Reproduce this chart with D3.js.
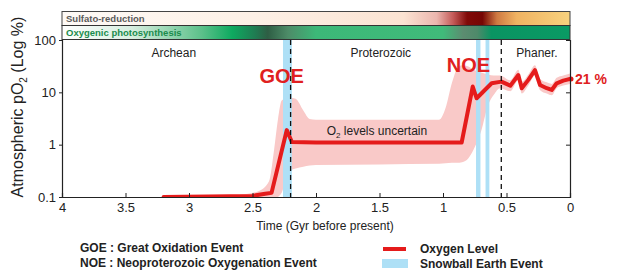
<!DOCTYPE html>
<html>
<head>
<meta charset="utf-8">
<script src="https://cdn.jsdelivr.net/npm/d3@7"></script>
<style>
  body { margin: 0; background: #fff; }
  svg { font-family: "Liberation Sans", Arial, sans-serif; }
</style>
</head>
<body>
<div id="chart"></div>
<script>
// Oxygen level curve (Gyr before present, % of atmosphere)
const ages = [3.2, 2.5, 2.4, 2.35, 2.23, 2.19, 2.0, 1.5, 1.0, 0.853, 0.766, 0.735, 0.617, 0.54, 0.47, 0.407, 0.38, 0.328, 0.276, 0.236, 0.183, 0.144, 0.105, 0.053, 0];
const o2 = [0.1, 0.105, 0.115, 0.12, 1.9, 1.12, 1.1, 1.1, 1.1, 1.1, 12.9, 7.7, 14.9, 16, 13.4, 21.4, 12, 17.3, 26.5, 13.8, 12, 11.1, 14.9, 16.7, 18];

// Uncertainty envelope
const bandAge = [2.6, 2.45, 2.37, 2.33, 2.3, 2.27, 2.22, 2.16, 2.1, 2.05, 2.0, 1.5, 1.03, 0.98, 0.93, 0.89, 0.85, 0.8, 0.76, 0.7, 0.645, 0.6, 0.55, 0.47, 0.407, 0.38, 0.328, 0.276, 0.236, 0.183, 0.144, 0.105, 0.053, 0];
const bandHigh = [0.11, 0.13, 0.2, 0.8, 3, 7, 8, 7.5, 4.5, 3.1, 3, 3, 3, 5, 15, 28, 33, 31, 27, 24, 22, 21, 21, 17, 27, 16, 22, 33, 18, 15.5, 14.5, 19, 21, 23];
const bandLow = [0.09, 0.09, 0.09, 0.09, 0.1, 0.12, 0.3, 0.35, 0.38, 0.4, 0.41, 0.42, 0.43, 0.44, 0.45, 0.45, 0.46, 0.55, 0.8, 1.8, 5.7, 9, 12, 10.5, 17, 9.5, 13.5, 21, 11, 9.5, 8.8, 12, 13.5, 14.5];

// Snowball Earth events [start, end] in Gyr
const snowballs = [[2.26, 2.19], [0.74, 0.705], [0.665, 0.635]];

// Eon boundaries and labels
const eonBounds = [2.2, 0.541];
const eonNames = ['Archean', 'Proterozoic', 'Phaner.'];
const eonMid = [3.12, 1.49, 0.26];

const xTicks = [4, 3.5, 3, 2.5, 2, 1.5, 1, 0.5, 0];
const yTicks = [0.1, 1, 10, 100];

// Top strips: colour stops by age
const sulfStops = [[4, '#fefaf6'], [2.5, '#fdf0e6'], [1.31, '#fbe3d2'], [1.05, '#ebb6ae'], [0.92, '#c45a58'], [0.81, '#800a08'], [0.69, '#760604'], [0.575, '#cf7a42'], [0.42, '#f0b362'], [0, '#f8d27e']];
const photoStops = [[4, '#ffffff'], [3.45, '#d8eee0'], [2.9, '#5cc08a'], [2.66, '#0eaa60'], [2.48, '#1f7c52'], [2.38, '#2e5e44'], [2.22, '#4d8c68'], [2.0, '#3cb878'], [1.0, '#40bb7a'], [0.84, '#5c8c70'], [0.73, '#4e8a6a'], [0.62, '#0a9462'], [0, '#0a9a64']];

const width = 622, height = 275;
const m = { left: 62, right: 52, top: 40, bottom: 78 };

const svg = d3.select('#chart').append('svg')
  .attr('width', width)
  .attr('height', height);

const x = d3.scaleLinear().domain([4, 0]).range([m.left, width - m.right]);
const y = d3.scaleLog().domain([0.1, 100]).range([height - m.bottom, m.top]);

const defs = svg.append('defs');
defs.append('clipPath').attr('id', 'plot-clip')
  .append('rect')
  .attr('x', x(4)).attr('y', y(100))
  .attr('width', x(0) - x(4)).attr('height', y(0.1) - y(100));

function addGradient(id, stops) {
  const g = defs.append('linearGradient').attr('id', id)
    .attr('x1', '0%').attr('x2', '100%').attr('y1', '0%').attr('y2', '0%');
  stops.forEach(s => {
    g.append('stop')
      .attr('offset', `${(4 - s[0]) / 4 * 100}%`)
      .attr('stop-color', s[1]);
  });
}
addGradient('sulf', sulfStops);
addGradient('photo', photoStops);

// top strips
const stripH = 14;
svg.append('rect')
  .attr('x', x(4)).attr('y', m.top - 2 * stripH - 0.5)
  .attr('width', x(0) - x(4)).attr('height', stripH)
  .attr('fill', 'url(#sulf)').attr('stroke', '#444').attr('stroke-width', 1);
svg.append('rect')
  .attr('x', x(4)).attr('y', m.top - stripH - 0.5)
  .attr('width', x(0) - x(4)).attr('height', stripH)
  .attr('fill', 'url(#photo)').attr('stroke', '#333').attr('stroke-width', 1);

svg.append('text')
  .attr('x', x(4) + 4).attr('y', m.top - stripH - 4)
  .style('font-size', '9.5px').style('font-weight', 'bold')
  .style('fill', '#5a5a5a')
  .text('Sulfato-reduction');
svg.append('text')
  .attr('x', x(4) + 4).attr('y', m.top - 4)
  .style('font-size', '9.5px').style('font-weight', 'bold')
  .style('fill', '#1a8c4c')
  .text('Oxygenic photosynthesis');

const plot = svg.append('g').attr('clip-path', 'url(#plot-clip)');

// uncertainty band
const bandData = bandAge.map((a, i) => ({ a, lo: bandLow[i], hi: bandHigh[i] }));
plot.append('path')
  .datum(bandData)
  .attr('fill', '#f9c9c8')
  .attr('d', d3.area()
    .x(d => x(d.a))
    .y0(d => y(d.lo))
    .y1(d => y(d.hi))
    .curve(d3.curveMonotoneX));

// snowball earth bands
plot.selectAll('.snow')
  .data(snowballs)
  .join('rect')
  .attr('class', 'snow')
  .attr('x', d => x(d[0]))
  .attr('width', d => x(d[1]) - x(d[0]))
  .attr('y', y(100))
  .attr('height', y(0.1) - y(100))
  .attr('fill', '#aee0f6');

// eon boundaries
svg.selectAll('.eon')
  .data(eonBounds)
  .join('line')
  .attr('class', 'eon')
  .attr('x1', d => x(d)).attr('x2', d => x(d))
  .attr('y1', y(100)).attr('y2', y(0.1))
  .attr('stroke', '#111').attr('stroke-width', 1.3)
  .attr('stroke-dasharray', '5,4');

// oxygen line
const lineData = ages.map((a, i) => ({ a, v: o2[i] }));
plot.append('path')
  .datum(lineData)
  .attr('fill', 'none')
  .attr('stroke', '#e51b1b')
  .attr('stroke-width', 4)
  .attr('stroke-linejoin', 'round')
  .attr('stroke-linecap', 'round')
  .attr('d', d3.line().x(d => x(d.a)).y(d => y(d.v)));

svg.append('circle')
  .attr('cx', x(0) + 1).attr('cy', y(o2[o2.length - 1]))
  .attr('r', 2.5).attr('fill', '#e51b1b');

// axes
const xAxis = svg.append('g')
  .attr('transform', `translate(0,${y(0.1)})`)
  .call(d3.axisBottom(x).tickValues(xTicks).tickSize(-4).tickPadding(6)
    .tickFormat(d3.format('')));
const yAxis = svg.append('g')
  .attr('transform', `translate(${x(4)},0)`)
  .call(d3.axisLeft(y).tickValues(yTicks).tickSize(3).tickPadding(3)
    .tickFormat(d => d));
const yAxisR = svg.append('g')
  .attr('transform', `translate(${x(0)},0)`)
  .call(d3.axisRight(y).tickValues(yTicks).tickSize(-4).tickFormat(''));

[xAxis, yAxis, yAxisR].forEach(a => {
  a.select('.domain').attr('stroke', '#222').attr('stroke-width', 1.2);
  a.selectAll('.tick line').attr('stroke', '#222');
  a.selectAll('text').style('font-size', '13px').style('fill', '#222')
    .style('font-family', '"Liberation Sans", Arial, sans-serif');
});

// eon names
svg.selectAll('.eon-name')
  .data(eonNames)
  .join('text')
  .attr('class', 'eon-name')
  .attr('x', (d, i) => x(eonMid[i]))
  .attr('y', 57)
  .attr('text-anchor', 'middle')
  .style('font-size', '12px').style('fill', '#222')
  .text(d => d);

// event labels
svg.append('text')
  .attr('x', x(2.27)).attr('y', 83)
  .attr('text-anchor', 'middle')
  .style('font-size', '20px').style('font-weight', 'bold').style('fill', '#e02020')
  .text('GOE');
svg.append('text')
  .attr('x', x(0.8)).attr('y', 72)
  .attr('text-anchor', 'middle')
  .style('font-size', '20px').style('font-weight', 'bold').style('fill', '#e02020')
  .text('NOE');

const unc = svg.append('text')
  .attr('x', x(1.52)).attr('y', 135)
  .attr('text-anchor', 'middle')
  .style('font-size', '12px').style('fill', '#222');
unc.append('tspan').text('O');
unc.append('tspan').attr('dy', 3).style('font-size', '8px').text('2');
unc.append('tspan').attr('dy', -3).text(' levels uncertain');

svg.append('text')
  .attr('x', x(0) + 5).attr('y', y(18) + 5)
  .style('font-size', '14px').style('font-weight', 'bold').style('fill', '#e02020')
  .text('21 %');

// axis titles
svg.append('text')
  .attr('x', 325).attr('y', 230)
  .attr('text-anchor', 'middle')
  .style('font-size', '12px').style('fill', '#222')
  .text('Time (Gyr before present)');

const yt = svg.append('text')
  .attr('transform', 'translate(23,107) rotate(-90)')
  .attr('text-anchor', 'middle')
  .style('font-size', '16px').style('fill', '#222');
yt.append('tspan').text('Atmospheric pO');
yt.append('tspan').attr('dy', 4).style('font-size', '10px').text('2');
yt.append('tspan').attr('dy', -4).text(' (Log %)');

// legend
const legText = ['GOE : Great Oxidation Event', 'NOE : Neoproterozoic Oxygenation Event'];
svg.selectAll('.leg-l')
  .data(legText)
  .join('text')
  .attr('class', 'leg-l')
  .attr('x', 80).attr('y', (d, i) => 252 + i * 15)
  .style('font-size', '12px').style('font-weight', 'bold').style('fill', '#222')
  .text(d => d);

svg.append('line')
  .attr('x1', 383).attr('x2', 406).attr('y1', 249).attr('y2', 249)
  .attr('stroke', '#e51b1b').attr('stroke-width', 4);
svg.append('rect')
  .attr('x', 382).attr('y', 259).attr('width', 26).attr('height', 9)
  .attr('fill', '#aee0f6');
const legR = ['Oxygen Level', 'Snowball Earth Event'];
svg.selectAll('.leg-r')
  .data(legR)
  .join('text')
  .attr('class', 'leg-r')
  .attr('x', 420).attr('y', (d, i) => 253 + i * 15)
  .style('font-size', '12px').style('font-weight', 'bold').style('fill', '#222')
  .text(d => d);
</script>
</body>
</html>
